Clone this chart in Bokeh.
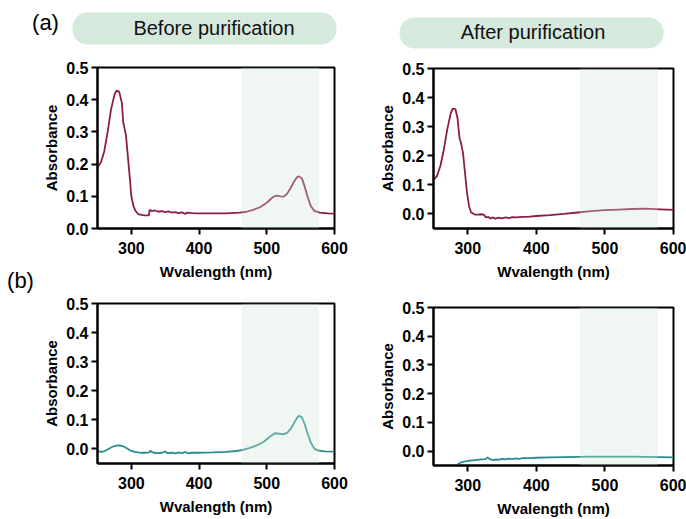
from bokeh.plotting import figure
from bokeh.models import Range1d, BoxAnnotation, Label, FixedTicker, PrintfTickFormatter
from bokeh.layouts import column, row
from bokeh.embed import file_html
from bokeh.resources import INLINE

FONT = "Liberation Sans"
RED = "#8c1c4c"
TEAL = "#2a8c8e"
SHADE = "#cfe6d8"
HEADER = "#d5eadc"

# ---------------- data ----------------
header_labels = ["Before purification", "After purification"]
panel_labels = ["(a)", "(b)"]
x_ticks = [300, 400, 500, 600]
y_ticks = [0.0, 0.1, 0.2, 0.3, 0.4, 0.5]
shade_range = [463, 577]

# (a) before purification
wl_a_before = [250, 255, 260, 265, 270, 275, 278, 282, 286, 288, 290, 292, 295, 298, 300, 303, 306,
               310, 315, 320, 326, 327, 330, 335, 340, 345, 350, 355, 360, 365, 370, 375, 380, 382,
               390, 400, 420, 440, 460, 470, 480, 490, 500, 505, 510, 515, 520, 525, 530, 535, 540,
               545, 548, 552, 556, 560, 565, 570, 578, 590, 600]
abs_a_before = [0.19, 0.205, 0.24, 0.30, 0.37, 0.415, 0.428, 0.425, 0.39, 0.33, 0.31, 0.29, 0.22, 0.15,
                0.10, 0.07, 0.055, 0.045, 0.042, 0.041, 0.041, 0.058, 0.054, 0.056, 0.052, 0.054, 0.051,
                0.053, 0.049, 0.051, 0.048, 0.050, 0.045, 0.049, 0.048, 0.047, 0.047, 0.047, 0.049,
                0.052, 0.058, 0.066, 0.080, 0.090, 0.099, 0.102, 0.100, 0.099, 0.108, 0.125, 0.145,
                0.160, 0.162, 0.155, 0.130, 0.100, 0.070, 0.055, 0.049, 0.047, 0.046]

# (a) after purification
wl_a_after = [250, 255, 260, 265, 270, 275, 278, 282, 285, 288, 290, 293, 296, 299, 302, 305, 310, 315,
              320, 324, 326, 330, 333, 336, 340, 345, 350, 355, 360, 365, 370, 380, 390, 400, 420, 440,
              460, 480, 500, 520, 540, 560, 580, 600]
abs_a_after = [0.117, 0.13, 0.165, 0.22, 0.29, 0.345, 0.362, 0.36, 0.33, 0.26, 0.245, 0.21, 0.14, 0.07,
               0.025, 0.005, -0.002, -0.002, -0.001, -0.003, -0.012, -0.010, -0.016, -0.012, -0.016,
               -0.013, -0.015, -0.012, -0.014, -0.011, -0.012, -0.010, -0.009, -0.007, -0.004, 0.000,
               0.005, 0.010, 0.013, 0.015, 0.017, 0.018, 0.016, 0.014]

# (b) before purification
wl_b_before = [250, 255, 260, 265, 270, 275, 280, 285, 290, 295, 300, 305, 310, 315, 320, 326, 328, 330,
               333, 340, 345, 350, 353, 360, 365, 370, 375, 380, 383, 390, 400, 420, 440, 455, 465, 475,
               485, 495, 505, 512, 518, 524, 530, 535, 540, 545, 548, 552, 556, 560, 565, 570, 575, 585,
               600]
abs_b_before = [-0.006, -0.010, -0.008, -0.002, 0.005, 0.010, 0.012, 0.011, 0.007, 0.000, -0.007, -0.010,
                -0.012, -0.013, -0.013, -0.012, -0.006, -0.010, -0.013, -0.014, -0.013, -0.009, -0.014,
                -0.013, -0.015, -0.012, -0.014, -0.010, -0.015, -0.013, -0.013, -0.012, -0.010, -0.007,
                -0.003, 0.004, 0.012, 0.024, 0.043, 0.054, 0.053, 0.050, 0.055, 0.068, 0.088, 0.108,
                0.114, 0.108, 0.085, 0.055, 0.022, 0.002, -0.005, -0.008, -0.009]

# (b) after purification
wl_b_after = [250, 260, 270, 278, 283, 288, 293, 300, 310, 320, 326, 329, 331, 333, 337, 340, 345, 350,
              355, 360, 365, 370, 375, 380, 390, 400, 420, 440, 460, 480, 500, 520, 540, 560, 580, 600]
abs_b_after = [-0.14, -0.11, -0.085, -0.065, -0.05, -0.042, -0.037, -0.034, -0.031, -0.029, -0.028,
               -0.022, -0.026, -0.029, -0.031, -0.029, -0.030, -0.027, -0.029, -0.026, -0.028, -0.025,
               -0.027, -0.024, -0.024, -0.023, -0.022, -0.021, -0.020, -0.019, -0.019, -0.019, -0.019,
               -0.020, -0.021, -0.022]


def panel(width, height, left, right, top, bottom, ymin, wl, ab, color):
    p = figure(width=width, height=height, x_range=Range1d(250, 600), y_range=Range1d(ymin, 0.5),
               output_backend="svg", toolbar_location=None,
               min_border_left=left, min_border_right=right,
               min_border_top=top, min_border_bottom=bottom)
    p.line(wl, ab, line_color=color, line_width=1.8)
    p.add_layout(BoxAnnotation(left=shade_range[0], right=shade_range[1], fill_color=SHADE,
                               fill_alpha=0.32, line_color=None))
    p.grid.visible = False
    p.background_fill_color = "white"
    p.border_fill_color = "white"
    p.outline_line_color = "black"
    p.outline_line_width = 2
    p.outline_line_alpha = 1
    p.xaxis.ticker = FixedTicker(ticks=x_ticks)
    p.yaxis.ticker = FixedTicker(ticks=y_ticks)
    p.yaxis.formatter = PrintfTickFormatter(format="%.1f")
    p.xaxis.formatter = PrintfTickFormatter(format="%d")
    p.xaxis.axis_label = "Wvalength (nm)"
    p.yaxis.axis_label = "Absorbance"
    for ax in (p.xaxis, p.yaxis):
        ax.axis_line_width = 2
        ax.major_tick_line_width = 2
        ax.major_tick_out = 6
        ax.major_tick_in = 0
        ax.minor_tick_line_color = None
        ax.major_label_text_font = FONT
        ax.major_label_text_font_size = "16px"
        ax.major_label_text_font_style = "bold"
        ax.major_label_text_color = "black"
        ax.axis_label_text_font = FONT
        ax.axis_label_text_font_size = "15px"
        ax.axis_label_text_font_style = "bold"
        ax.axis_label_text_color = "black"
    p.xaxis.major_label_standoff = 7
    p.yaxis.major_label_standoff = 3
    p.xaxis.axis_label_standoff = 6
    p.yaxis.axis_label_standoff = 3
    return p


def canvas(width, height):
    f = figure(width=width, height=height, x_range=Range1d(0, width), y_range=Range1d(height, 0),
               x_axis_location=None, y_axis_location=None, min_border=0,
               output_backend="svg", toolbar_location=None)
    f.grid.visible = False
    f.outline_line_color = None
    return f


# header strip (page pixels)
h = canvas(686, 52)
h.add_layout(BoxAnnotation(left=72, right=336, top=12, bottom=44, fill_color=HEADER, fill_alpha=1,
                           line_color=None, border_radius=15))
h.add_layout(BoxAnnotation(left=399, right=663, top=17, bottom=48, fill_color=HEADER, fill_alpha=1,
                           line_color=None, border_radius=15))
h.add_layout(Label(x=45, y=21.5, text=panel_labels[0], text_font=FONT, text_font_size="22px",
                   text_align="center", text_baseline="middle", text_color="black"))
h.add_layout(Label(x=213.5, y=27, text=header_labels[0], text_font=FONT, text_font_size="20px",
                   text_align="center", text_baseline="middle", text_color="#111111"))
h.add_layout(Label(x=532.5, y=31.5, text=header_labels[1], text_font=FONT, text_font_size="20px",
                   text_align="center", text_baseline="middle", text_color="#111111"))

# narrow strip on the left for the (b) label
lab = canvas(40, 467)
lab.add_layout(Label(x=20, y=228, text=panel_labels[1], text_font=FONT, text_font_size="22px",
                     text_align="center", text_baseline="middle", text_color="black"))

tl = panel(320, 243, 52, 26, 15, 67, 0.0, wl_a_before, abs_a_before, RED)
bl = panel(320, 224, 52, 26, 8, 56, -0.05, wl_b_before, abs_b_before, TEAL)
tr = panel(326, 233, 71, 13, 16, 57, -0.05, wl_a_after, abs_a_after, RED)
br = panel(326, 234, 73, 11, 22, 52, -0.05, wl_b_after, abs_b_after, TEAL)

layout = column(h, row(lab, column(tl, bl), column(tr, br)))

open("out.html", "w").write(file_html(layout, INLINE))
